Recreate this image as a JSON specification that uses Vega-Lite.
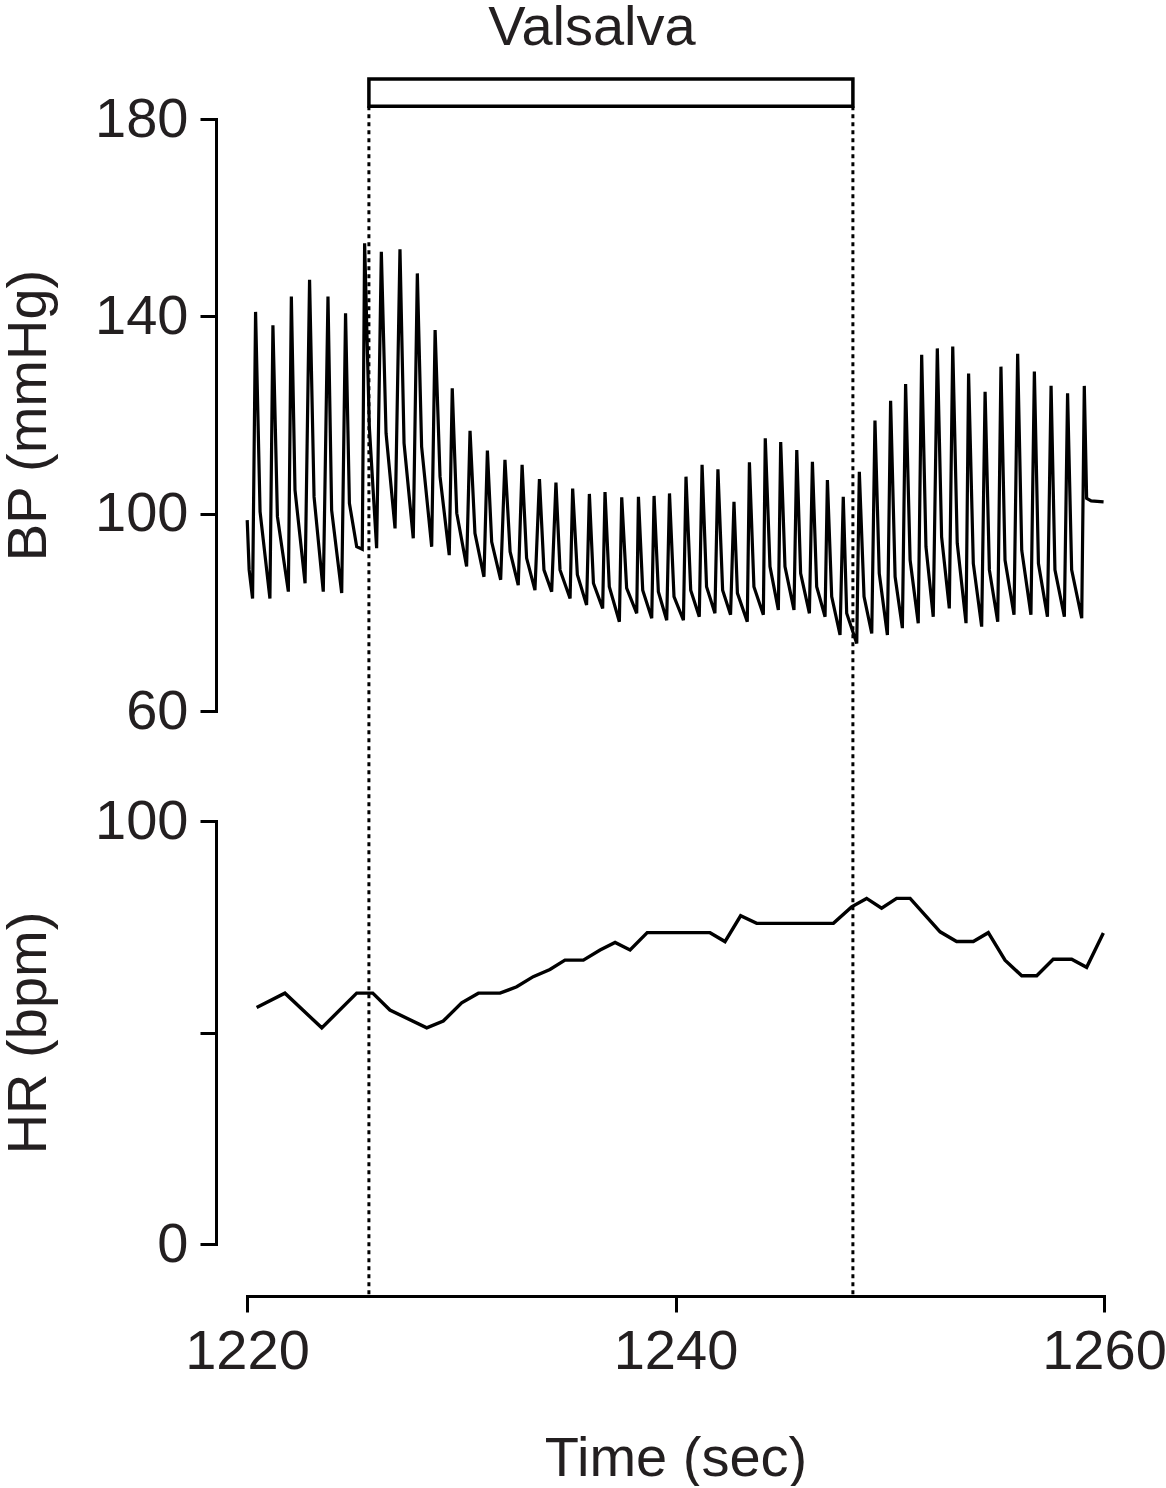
{
  "$schema": "https://vega.github.io/schema/vega-lite/v6.json",
  "padding": {"left": 0, "top": 0, "right": 0, "bottom": 0},
  "bounds": "flush",
  "spacing": 110,
  "background": "white",
  "config": {
    "view": {"stroke": null},
    "font": "Liberation Sans",
    "axis": {
      "grid": false,
      "domainColor": "#000000",
      "domainWidth": 3,
      "domainCap": "square",
      "tickColor": "#000000",
      "tickWidth": 3,
      "tickSize": 16,
      "labelFont": "Liberation Sans",
      "labelFontSize": 56,
      "labelColor": "#231f20",
      "labelPadding": 12,
      "labelFlush": false,
      "titleFont": "Liberation Sans",
      "titleFontSize": 56,
      "titleFontWeight": "normal",
      "titleColor": "#231f20"
    }
  },
  "datasets": {
    "valsalva": [
      {"start": 1225.69, "end": 1248.28, "label": "Valsalva", "labelAt": 1236.1}
    ],
    "marks": [
      {"t": 1225.69},
      {"t": 1248.28}
    ],
    "bp": [
      {"t": 1220.01, "bp": 98.7}, {"t": 1220.10, "bp": 88.6}, {"t": 1220.26, "bp": 82.8},
      {"t": 1220.40, "bp": 140.9}, {"t": 1220.61, "bp": 100.4}, {"t": 1221.07, "bp": 82.8},
      {"t": 1221.21, "bp": 138.2}, {"t": 1221.42, "bp": 99.4}, {"t": 1221.93, "bp": 84.2},
      {"t": 1222.07, "bp": 144.0}, {"t": 1222.24, "bp": 104.8}, {"t": 1222.71, "bp": 85.9},
      {"t": 1222.92, "bp": 147.4}, {"t": 1223.13, "bp": 103.4}, {"t": 1223.56, "bp": 84.2},
      {"t": 1223.78, "bp": 144.0}, {"t": 1223.95, "bp": 100.7}, {"t": 1224.42, "bp": 83.9},
      {"t": 1224.60, "bp": 140.6}, {"t": 1224.78, "bp": 102.1}, {"t": 1225.12, "bp": 93.3},
      {"t": 1225.38, "bp": 92.8},
      {"t": 1225.49, "bp": 154.8}, {"t": 1225.71, "bp": 117.6}, {"t": 1226.05, "bp": 93.0},
      {"t": 1226.27, "bp": 153.1}, {"t": 1226.49, "bp": 116.3}, {"t": 1226.91, "bp": 97.0},
      {"t": 1227.14, "bp": 153.6}, {"t": 1227.33, "bp": 114.3}, {"t": 1227.76, "bp": 95.0},
      {"t": 1227.95, "bp": 148.7}, {"t": 1228.15, "bp": 113.6}, {"t": 1228.62, "bp": 93.3},
      {"t": 1228.78, "bp": 137.2}, {"t": 1229.01, "bp": 107.5}, {"t": 1229.44, "bp": 91.6},
      {"t": 1229.58, "bp": 125.4}, {"t": 1229.79, "bp": 100.1}, {"t": 1230.25, "bp": 89.3},
      {"t": 1230.41, "bp": 116.8}, {"t": 1230.64, "bp": 96.0}, {"t": 1231.06, "bp": 87.2},
      {"t": 1231.22, "bp": 112.8}, {"t": 1231.42, "bp": 94.3}, {"t": 1231.84, "bp": 86.6},
      {"t": 1232.04, "bp": 110.9}, {"t": 1232.28, "bp": 92.3}, {"t": 1232.66, "bp": 85.5},
      {"t": 1232.84, "bp": 109.9}, {"t": 1233.05, "bp": 91.0}, {"t": 1233.44, "bp": 84.5},
      {"t": 1233.65, "bp": 107.0}, {"t": 1233.86, "bp": 88.6}, {"t": 1234.22, "bp": 84.2},
      {"t": 1234.42, "bp": 106.3}, {"t": 1234.61, "bp": 88.6}, {"t": 1235.08, "bp": 82.8},
      {"t": 1235.20, "bp": 105.1}, {"t": 1235.42, "bp": 87.6}, {"t": 1235.85, "bp": 81.5},
      {"t": 1235.98, "bp": 104.0}, {"t": 1236.17, "bp": 85.9}, {"t": 1236.60, "bp": 80.8},
      {"t": 1236.71, "bp": 104.4}, {"t": 1236.91, "bp": 85.2}, {"t": 1237.38, "bp": 78.1},
      {"t": 1237.49, "bp": 103.3}, {"t": 1237.72, "bp": 84.9}, {"t": 1238.19, "bp": 79.8},
      {"t": 1238.27, "bp": 103.4}, {"t": 1238.47, "bp": 84.5}, {"t": 1238.89, "bp": 78.8},
      {"t": 1239.00, "bp": 103.6}, {"t": 1239.20, "bp": 84.2}, {"t": 1239.59, "bp": 78.4},
      {"t": 1239.72, "bp": 104.1}, {"t": 1239.93, "bp": 83.2}, {"t": 1240.37, "bp": 78.4},
      {"t": 1240.49, "bp": 107.5}, {"t": 1240.71, "bp": 84.5}, {"t": 1241.11, "bp": 79.1},
      {"t": 1241.24, "bp": 109.9}, {"t": 1241.45, "bp": 85.2}, {"t": 1241.84, "bp": 79.8},
      {"t": 1241.98, "bp": 109.0}, {"t": 1242.20, "bp": 84.5}, {"t": 1242.57, "bp": 79.5},
      {"t": 1242.73, "bp": 102.4}, {"t": 1242.89, "bp": 83.9}, {"t": 1243.35, "bp": 78.1},
      {"t": 1243.45, "bp": 110.4}, {"t": 1243.66, "bp": 85.2}, {"t": 1244.10, "bp": 79.5},
      {"t": 1244.19, "bp": 115.3}, {"t": 1244.41, "bp": 89.3}, {"t": 1244.80, "bp": 80.5},
      {"t": 1244.91, "bp": 114.5}, {"t": 1245.11, "bp": 89.3}, {"t": 1245.53, "bp": 80.5},
      {"t": 1245.66, "bp": 112.9}, {"t": 1245.84, "bp": 87.9}, {"t": 1246.25, "bp": 79.8},
      {"t": 1246.39, "bp": 110.5}, {"t": 1246.59, "bp": 85.2}, {"t": 1246.98, "bp": 79.1},
      {"t": 1247.09, "bp": 106.8}, {"t": 1247.29, "bp": 83.2}, {"t": 1247.68, "bp": 75.4},
      {"t": 1247.83, "bp": 103.4}, {"t": 1247.99, "bp": 79.8}, {"t": 1248.46, "bp": 73.7},
      {"t": 1248.58, "bp": 108.5}, {"t": 1248.80, "bp": 83.2}, {"t": 1249.16, "bp": 75.7},
      {"t": 1249.31, "bp": 118.9}, {"t": 1249.51, "bp": 87.9}, {"t": 1249.89, "bp": 75.4},
      {"t": 1250.04, "bp": 122.9}, {"t": 1250.25, "bp": 87.2}, {"t": 1250.59, "bp": 76.8},
      {"t": 1250.74, "bp": 126.3}, {"t": 1250.95, "bp": 90.6}, {"t": 1251.33, "bp": 77.8},
      {"t": 1251.49, "bp": 132.2}, {"t": 1251.69, "bp": 93.3}, {"t": 1252.03, "bp": 79.1},
      {"t": 1252.22, "bp": 133.5}, {"t": 1252.42, "bp": 95.3}, {"t": 1252.78, "bp": 80.8},
      {"t": 1252.94, "bp": 133.9}, {"t": 1253.15, "bp": 94.0}, {"t": 1253.56, "bp": 77.8},
      {"t": 1253.68, "bp": 128.4}, {"t": 1253.90, "bp": 89.9}, {"t": 1254.29, "bp": 77.1},
      {"t": 1254.45, "bp": 124.7}, {"t": 1254.65, "bp": 88.6}, {"t": 1255.04, "bp": 78.1},
      {"t": 1255.19, "bp": 129.8}, {"t": 1255.38, "bp": 90.6}, {"t": 1255.80, "bp": 79.5},
      {"t": 1255.97, "bp": 132.4}, {"t": 1256.16, "bp": 92.6}, {"t": 1256.59, "bp": 79.5},
      {"t": 1256.75, "bp": 128.8}, {"t": 1256.94, "bp": 89.9}, {"t": 1257.36, "bp": 79.1},
      {"t": 1257.53, "bp": 125.9}, {"t": 1257.71, "bp": 88.6}, {"t": 1258.15, "bp": 79.1},
      {"t": 1258.30, "bp": 124.4}, {"t": 1258.49, "bp": 88.6}, {"t": 1258.96, "bp": 78.8},
      {"t": 1259.08, "bp": 125.9}, {"t": 1259.19, "bp": 103.1}, {"t": 1259.40, "bp": 102.6},
      {"t": 1259.98, "bp": 102.4}
    ],
    "hr": [
      {"t": 1220.45, "hr": 55.9}, {"t": 1221.77, "hr": 59.3}, {"t": 1223.49, "hr": 51.1},
      {"t": 1225.12, "hr": 59.3}, {"t": 1225.87, "hr": 59.3}, {"t": 1226.67, "hr": 55.3},
      {"t": 1228.39, "hr": 51.1}, {"t": 1229.16, "hr": 52.7}, {"t": 1230.02, "hr": 57.0},
      {"t": 1230.80, "hr": 59.3}, {"t": 1231.81, "hr": 59.3}, {"t": 1232.59, "hr": 60.8},
      {"t": 1233.36, "hr": 63.2}, {"t": 1234.14, "hr": 64.9}, {"t": 1234.84, "hr": 67.1},
      {"t": 1235.70, "hr": 67.1}, {"t": 1236.48, "hr": 69.5}, {"t": 1237.18, "hr": 71.3},
      {"t": 1237.88, "hr": 69.5}, {"t": 1238.68, "hr": 73.6}, {"t": 1241.61, "hr": 73.6},
      {"t": 1242.31, "hr": 71.5}, {"t": 1243.04, "hr": 77.6}, {"t": 1243.79, "hr": 75.8},
      {"t": 1247.37, "hr": 75.8}, {"t": 1248.22, "hr": 79.7}, {"t": 1248.92, "hr": 81.7},
      {"t": 1249.62, "hr": 79.4}, {"t": 1250.32, "hr": 81.7}, {"t": 1250.95, "hr": 81.7},
      {"t": 1252.35, "hr": 73.8}, {"t": 1253.12, "hr": 71.5}, {"t": 1253.90, "hr": 71.5},
      {"t": 1254.60, "hr": 73.6}, {"t": 1255.38, "hr": 67.1}, {"t": 1256.16, "hr": 63.4},
      {"t": 1256.86, "hr": 63.4}, {"t": 1257.63, "hr": 67.3}, {"t": 1258.49, "hr": 67.3},
      {"t": 1259.19, "hr": 65.4}, {"t": 1259.97, "hr": 73.5}
    ]
  },
  "vconcat": [
    {
      "width": 857,
      "height": 592,
      "layer": [
        {
          "data": {"name": "marks"},
          "mark": {"type": "rule", "color": "#000000", "strokeWidth": 3, "strokeDash": [4, 4]},
          "encoding": {
            "x": {"field": "t", "type": "quantitative", "scale": {"domain": [1220, 1260], "nice": false}, "axis": null},
            "y": {"datum": 182.6, "type": "quantitative"},
            "y2": {"datum": -58.6}
          }
        },
        {
          "data": {"name": "bp"},
          "mark": {"type": "line", "color": "#000000", "strokeWidth": 3.2, "strokeJoin": "miter"},
          "encoding": {
            "x": {"field": "t", "type": "quantitative", "scale": {"domain": [1220, 1260], "nice": false}, "axis": null},
            "y": {
              "field": "bp",
              "type": "quantitative",
              "scale": {"domain": [60, 180], "nice": false, "zero": false},
              "axis": {"values": [60, 100, 140, 180], "title": "BP (mmHg)", "offset": 31, "titlePadding": 37}
            }
          }
        },
        {
          "data": {"name": "valsalva"},
          "mark": {"type": "rect", "fill": "#ffffff", "stroke": "#000000", "strokeWidth": 3.5},
          "encoding": {
            "x": {"field": "start", "type": "quantitative"},
            "x2": {"field": "end"},
            "y": {"datum": 182.6, "type": "quantitative"},
            "y2": {"datum": 188.1}
          }
        },
        {
          "data": {"name": "valsalva"},
          "mark": {"type": "text", "fontSize": 56, "color": "#231f20", "align": "center", "baseline": "alphabetic", "font": "Liberation Sans"},
          "encoding": {
            "x": {"field": "labelAt", "type": "quantitative"},
            "y": {"datum": 195, "type": "quantitative"},
            "text": {"field": "label"}
          }
        }
      ]
    },
    {
      "width": 857,
      "height": 423,
      "data": {"name": "hr"},
      "mark": {"type": "line", "color": "#000000", "strokeWidth": 3.4},
      "encoding": {
        "x": {
          "field": "t",
          "type": "quantitative",
          "scale": {"domain": [1220, 1260], "nice": false},
          "axis": {"values": [1220, 1240, 1260], "title": "Time (sec)", "offset": 52, "titlePadding": 52, "format": "d"}
        },
        "y": {
          "field": "hr",
          "type": "quantitative",
          "scale": {"domain": [0, 100], "nice": false},
          "axis": {"values": [0, 50, 100], "title": "HR (bpm)", "offset": 31, "titlePadding": 37, "labelExpr": "datum.value == 50 ? '' : datum.label"}
        }
      }
    }
  ]
}
